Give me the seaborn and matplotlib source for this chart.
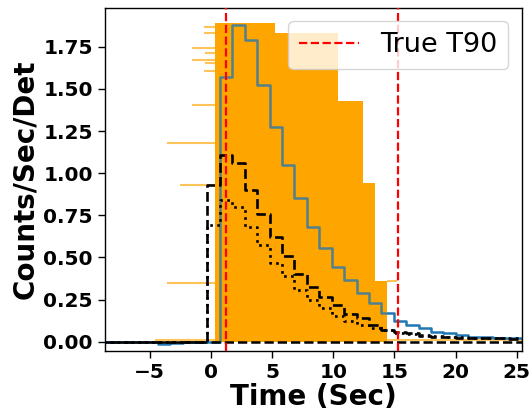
import numpy as np
import matplotlib
matplotlib.use("Agg")
import matplotlib.pyplot as plt
from matplotlib.lines import Line2D
import seaborn as sns

# Time bin edges (s) of the binned light curves
bin_edges = [-9.41, -8.39, -7.38, -6.36, -5.35, -4.34, -3.32, -2.31, -1.29, -0.28,
             0.74, 1.75, 2.77, 3.78, 4.80, 5.81, 6.83, 7.84, 8.86, 9.87,
             10.89, 11.91, 12.92, 13.94, 14.95, 15.97, 16.98, 18.00, 19.01, 20.03,
             21.04, 22.06, 23.07, 24.09, 25.10, 26.12]

# Observed count rate per bin
observed_rate = [0, 0, 0, 0, 0, -0.012, -0.005, 0, 0, 0,
                 1.57, 1.88, 1.79, 1.52, 1.275, 1.048, 0.85, 0.682, 0.554, 0.441,
                 0.366, 0.287, 0.231, 0.168, 0.125, 0.099, 0.079, 0.059, 0.05, 0.04,
                 0.03, 0.028, 0.025, 0.02, 0.02]

# Model components per bin
model_dashed = [0, 0, 0, 0, 0, 0, 0, 0, 0, 0.93,
                1.11, 1.058, 0.90, 0.756, 0.619, 0.508, 0.402, 0.326, 0.267, 0.22,
                0.165, 0.139, 0.099, 0.069, 0.059, 0.05, 0.035, 0.03, 0.028, 0.025,
                0.022, 0.02, 0.02, 0.018, 0.015]

model_dotted = [0, 0, 0, 0, 0, 0, 0, 0, 0, 0.69,
                0.84, 0.797, 0.678, 0.574, 0.469, 0.39, 0.307, 0.247, 0.198, 0.155,
                0.125, 0.099, 0.08, 0.069, 0.053, 0.045, 0.04, 0.035, 0.03, 0.028,
                0.025, 0.022, 0.02, 0.02, 0.018]

# Sampled emission envelope (step edges and heights)
envelope_t = [0.33, 5.23, 10.4, 12.4, 13.4, 14.4]
envelope_hi = [1.89, 1.83, 1.43, 0.94, 0.36, 0.36]

# Individual sample levels drawn as thin strokes
sample_levels = [1.869, 1.83, 1.744, 1.714, 1.671, 1.652, 1.606, 1.404, 1.177, 0.93, 0.346, 0.36, 0.012]
sample_start = [-0.57, -0.57, -1.55, -0.49, -1.55, -0.49, -0.57, -1.58, -3.6, -2.53, -3.6, 14.4, -4.6]
sample_stop = [0.33, 0.33, 0.33, 0.33, 0.33, 0.33, 0.33, 0.33, 0.33, 0.33, 0.33, 15.2, 25.5]

# True T90 interval
t90_bounds = [1.23, 15.33]

x_ticks = [-5, 0, 5, 10, 15, 20, 25]
y_ticks = [0.0, 0.25, 0.5, 0.75, 1.0, 1.25, 1.5, 1.75]

sns.set_theme(style="ticks")
plt.rcParams["font.family"] = ["DejaVu Sans"]
plt.rcParams["text.color"] = "black"
plt.rcParams["axes.labelcolor"] = "black"
plt.rcParams["xtick.color"] = "black"
plt.rcParams["ytick.color"] = "black"

fig, ax = plt.subplots(figsize=(5.32, 4.17), dpi=100)
fig.subplots_adjust(left=0.197, right=0.981, top=0.981, bottom=0.159)


def stepped(values):
    return list(values) + [values[-1]]


orange = "#FFA500"
ax.fill_between(envelope_t, 0, envelope_hi, step="post", color=orange, lw=0, zorder=1)
ax.hlines(sample_levels, sample_start, sample_stop, color=orange, lw=1.5, alpha=0.65, zorder=1)

sns.lineplot(x=bin_edges, y=stepped(observed_rate), drawstyle="steps-post",
             color="#1f77b4", lw=1.8, ax=ax, zorder=2, errorbar=None)

# light wash of the envelope over the observed curve
ax.fill_between(envelope_t, 0, envelope_hi, step="post", color=orange, lw=0, alpha=0.22, zorder=3)

sns.lineplot(x=bin_edges, y=stepped(model_dashed), drawstyle="steps-post",
             color="black", lw=1.9, linestyle="--", ax=ax, zorder=4, errorbar=None)
sns.lineplot(x=bin_edges, y=stepped(model_dotted), drawstyle="steps-post",
             color="black", lw=1.9, linestyle=":", ax=ax, zorder=4, errorbar=None)

ax.axhline(0, color="black", ls="--", lw=1.8, zorder=4)
for t in t90_bounds:
    ax.axvline(t, color="red", ls="--", lw=1.6, zorder=5)

ax.set_xlim(-8.67, 25.42)
ax.set_ylim(-0.053, 1.98)
ax.set_xticks(x_ticks)
ax.set_yticks(y_ticks)
ax.set_yticklabels([f"{v:.2f}" for v in y_ticks])
ax.set_xticklabels([str(v).replace("-", "\u2212") for v in x_ticks])
ax.tick_params(axis="both", labelsize=14.5, length=5, width=1, color="black",
               labelcolor="black")
for lab in ax.get_xticklabels() + ax.get_yticklabels():
    lab.set_fontweight("bold")
for sp in ax.spines.values():
    sp.set_color("black")
    sp.set_linewidth(1.0)

ax.set_xlabel("Time (Sec)", fontsize=20, fontweight="bold", labelpad=1, color="black")
ax.set_ylabel("Counts/Sec/Det", fontsize=20, fontweight="bold", labelpad=3, color="black")

handle = Line2D([], [], color="red", ls="--", lw=1.6)
ax.legend([handle], ["True T90"], loc="upper right", fontsize=19.5, framealpha=0.8,
          handlelength=2.2)

fig.savefig("out.png", dpi=100)
